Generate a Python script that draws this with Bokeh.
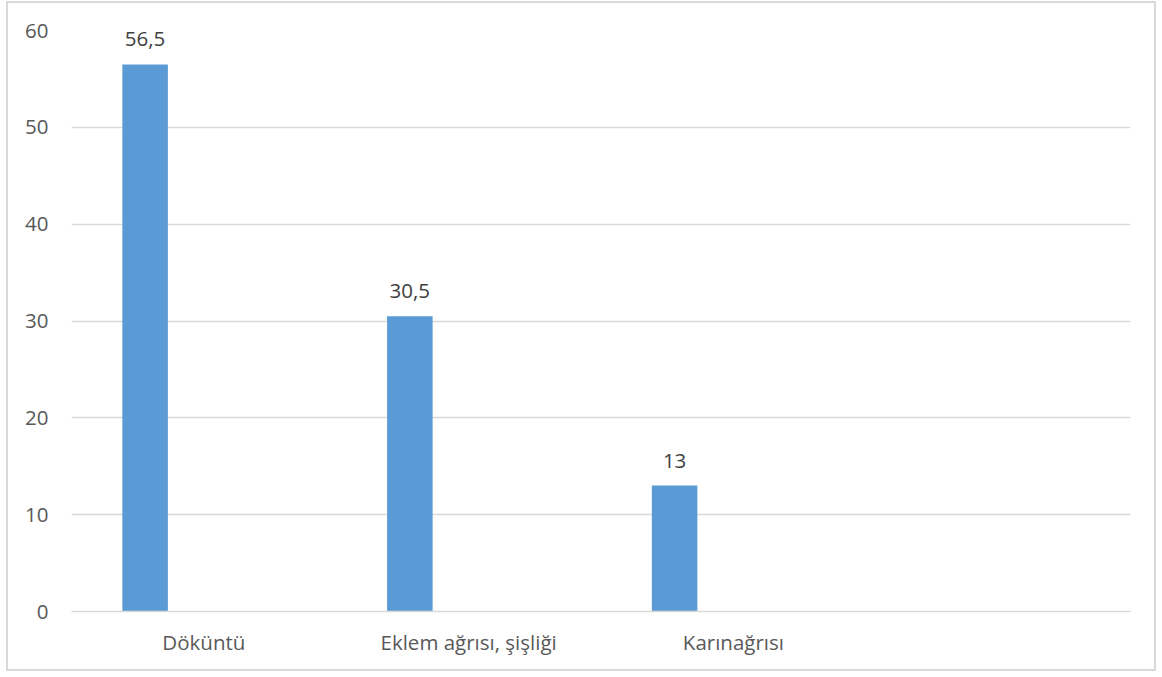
from bokeh.plotting import figure
from bokeh.models import ColumnDataSource, FactorRange, Range1d, FixedTicker
from bokeh.transform import dodge
from bokeh.embed import file_html
from bokeh.resources import INLINE
from bokeh.core.properties import value

# Symptom categories (the last slot of the axis is left empty)
categories = ["Döküntü", "Eklem ağrısı, şişliği", "Karınağrısı"]
empty_slot = [" "]
percentages = [56.5, 30.5, 13]
y_ticks = [0, 10, 20, 30, 40, 50, 60]


def fmt(v):
    s = ("%g" % v)
    return s.replace(".", ",")


source = ColumnDataSource(data=dict(
    cat=categories,
    val=percentages,
    label=[fmt(v) for v in percentages],
))

FONT = "Open Sans"
FONT_SIZE = "20.5px"
BAR = "#5B9BD5"
GRID = "#D9D9D9"
TEXT = "#595959"

p = figure(
    x_range=FactorRange(*(categories + empty_slot), range_padding=0.0),
    y_range=Range1d(0, 60),
    width=1150, height=670,
    output_backend="svg", toolbar_location=None,
    min_border_left=63, min_border_right=28,
    min_border_top=27, min_border_bottom=62,
    background_fill_color="white", border_fill_color="white",
    styles={"border": "2px solid #D9D9D9", "margin-left": "6px", "margin-top": "1px"},
)
p.x_range.factor_padding = 0.0
p.outline_line_color = None

bar_x = dodge("cat", -0.222, range=p.x_range)
p.vbar(x=bar_x, top="val", width=0.172, source=source,
       fill_color=BAR, line_color=None)

p.text(x=bar_x, y="val", text="label", source=source,
       text_align="center", text_baseline="alphabetic", y_offset=-25,
       text_font=value(FONT), text_font_size=FONT_SIZE, text_color="#404040")

# y axis: labels only, gridlines carry the scale
p.yaxis.ticker = FixedTicker(ticks=y_ticks)
p.yaxis.axis_line_color = None
p.yaxis.major_tick_line_color = None
p.yaxis.minor_tick_line_color = None
p.yaxis.major_tick_out = 0
p.yaxis.major_label_standoff = 23
p.yaxis.major_label_text_font = FONT
p.yaxis.major_label_text_font_size = FONT_SIZE
p.yaxis.major_label_text_color = TEXT

p.ygrid.ticker = FixedTicker(ticks=y_ticks)
p.ygrid.grid_line_color = GRID
p.ygrid.grid_line_width = 1.5
p.xgrid.grid_line_color = None

p.xaxis.axis_line_color = GRID
p.xaxis.axis_line_width = 1.5
p.xaxis.major_tick_line_color = None
p.xaxis.minor_tick_line_color = None
p.xaxis.major_tick_out = 0
p.xaxis.major_label_standoff = 16
p.xaxis.major_label_text_font = FONT
p.xaxis.major_label_text_font_size = FONT_SIZE
p.xaxis.major_label_text_color = TEXT

open("out.html", "w").write(file_html(p, INLINE))
